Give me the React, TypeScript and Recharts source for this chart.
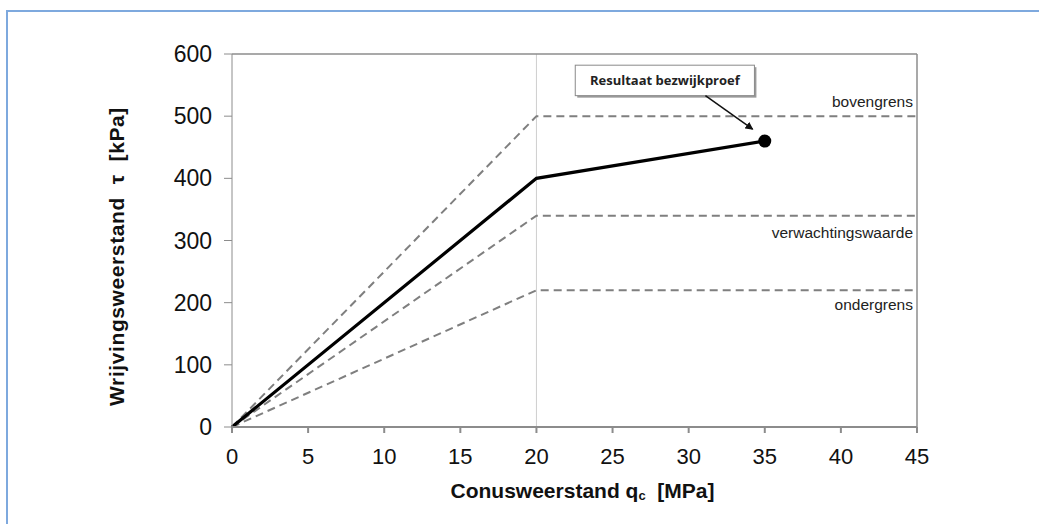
import { LineChart, Line, XAxis, YAxis, ReferenceLine, ReferenceArea } from 'recharts'

const xTicks = [0, 5, 10, 15, 20, 25, 30, 35, 40, 45]
const yTicks = [0, 100, 200, 300, 400, 500, 600]

const resultaat = [
  { x: 0, y: 0 },
  { x: 20, y: 400 },
  { x: 35, y: 460 },
]
const bovengrens = [
  { x: 0, y: 0 },
  { x: 20, y: 500 },
  { x: 45, y: 500 },
]
const verwachting = [
  { x: 0, y: 0 },
  { x: 20, y: 340 },
  { x: 45, y: 340 },
]
const ondergrens = [
  { x: 0, y: 0 },
  { x: 20, y: 220 },
  { x: 45, y: 220 },
]

const limits = [
  { name: 'bovengrens', data: bovengrens, dy: -13 },
  { name: 'verwachtingswaarde', data: verwachting, dy: 18 },
  { name: 'ondergrens', data: ondergrens, dy: 16 },
]

const annotation = { text: 'Resultaat bezwijkproef', x1: 22.55, x2: 34.32, y1: 533, y2: 582 }
const arrow = [
  { x: 31.1, y: 533 },
  { x: 34.2, y: 479 },
]

const axisGray = '#8c8c8c'
const font = 'Arial, "Liberation Sans", sans-serif'

function endLabel(name: string, dy: number, last: number) {
  return (props: any) => {
    if (props.index !== last) return null
    return (
      <text
        x={props.x - 4}
        y={props.y + dy}
        textAnchor="end"
        dominantBaseline="middle"
        fontSize={15.5}
        fontFamily={font}
        fill="#222"
      >
        {name}
      </text>
    )
  }
}

function EndDot(props: any) {
  if (props.index !== resultaat.length - 1) return null
  return <circle cx={props.cx} cy={props.cy} r={6.5} fill="#000" />
}

function BoxShape(props: any) {
  const { x, y, width, height } = props
  return (
    <g>
      <rect x={x + 2} y={y + 2} width={width} height={height} fill="#9a9a9a" />
      <rect x={x} y={y} width={width} height={height} fill="#fff" stroke="#8a8a8a" strokeWidth={1} />
      <text
        x={x + width / 2}
        y={y + height / 2 + 1}
        textAnchor="middle"
        dominantBaseline="middle"
        fontSize={13}
        fontWeight="bold"
        fontFamily='"Open Sans", sans-serif'
        fill="#222"
      >
        {annotation.text}
      </text>
    </g>
  )
}

function ArrowShape(props: any) {
  const { x1, y1, x2, y2 } = props
  return (
    <line x1={x1} y1={y1} x2={x2} y2={y2} stroke="#111" strokeWidth={1.5} markerEnd="url(#arrowHead)" />
  )
}

export default function App() {
  return (
    <div style={{ position: 'absolute', left: 0, top: 0, width: 1039, height: 524, background: '#fff' }}>
      <div
        style={{
          position: 'absolute',
          left: 6,
          top: 10,
          width: 1033,
          height: 514,
          borderTop: '2px solid #7ea9de',
          borderLeft: '2px solid #7ea9de',
          boxSizing: 'border-box',
        }}
      />
      <div style={{ position: 'absolute', left: 0, top: 0 }}>
        <LineChart width={1039} height={524} margin={{ top: 54, right: 122, bottom: 0, left: 0 }}>
          <defs>
            <marker id="arrowHead" markerWidth="8" markerHeight="8" refX="7" refY="4" orient="auto" markerUnits="userSpaceOnUse">
              <path d="M0,0 L8,4 L0,8 z" fill="#111" />
            </marker>
          </defs>
          <XAxis
            type="number"
            dataKey="x"
            domain={[0, 45]}
            ticks={xTicks}
            height={97}
            stroke={axisGray}
            strokeWidth={2}
            tickSize={6}
            tick={{ fill: '#111', fontSize: 22, fontFamily: font, dy: 13 }}
            label={{
              value: 'Conusweerstand qc [MPa]',
              content: (p: any) => {
                const vb = p.viewBox
                return (
                  <text
                    x={vb.x + vb.width / 2 + 8}
                    y={492}
                    textAnchor="middle"
                    dominantBaseline="middle"
                    fontSize={21}
                    fontWeight="bold"
                    fontFamily={font}
                    fill="#111"
                  >
                    Conusweerstand q
                    <tspan fontSize={13} dy={5}>c</tspan>
                    <tspan dy={-5}>{'\u00a0\u00a0[MPa]'}</tspan>
                  </text>
                )
              },
            }}
          />
          <YAxis
            type="number"
            domain={[0, 600]}
            ticks={yTicks}
            width={232}
            stroke={axisGray}
            tickSize={8}
            tick={{ fill: '#111', fontSize: 23, fontFamily: font, dx: -10 }}
            label={{
              value: 'Wrijvingsweerstand',
              content: (p: any) => {
                const vb = p.viewBox
                const cy = vb.y + vb.height / 2 + 16
                return (
                  <text
                    x={118}
                    y={cy}
                    transform={`rotate(-90 118 ${cy})`}
                    textAnchor="middle"
                    dominantBaseline="middle"
                    fontSize={21}
                    fontWeight="bold"
                    fontFamily={font}
                    fill="#111"
                    letterSpacing={0.6}
                  >
                    {'Wrijvingsweerstand\u00a0\u00a0τ\u00a0\u00a0[kPa]'}
                  </text>
                )
              },
            }}
          />
          <ReferenceLine x={20} stroke="#cfcfcf" strokeWidth={1} />
          <ReferenceLine y={600} stroke={axisGray} strokeWidth={1.5} />
          <ReferenceLine x={45} stroke={axisGray} strokeWidth={1.5} />
          {limits.map((l) => (
            <Line
              key={l.name}
              data={l.data}
              dataKey="y"
              type="linear"
              stroke="#7f7f7f"
              strokeWidth={2}
              strokeDasharray="8 5"
              dot={false}
              activeDot={false}
              isAnimationActive={false}
              label={endLabel(l.name, l.dy, l.data.length - 1)}
            />
          ))}
          <Line
            data={resultaat}
            dataKey="y"
            type="linear"
            stroke="#000"
            strokeWidth={3.2}
            dot={<EndDot />}
            activeDot={false}
            isAnimationActive={false}
          />
          <ReferenceArea
            x1={annotation.x1}
            x2={annotation.x2}
            y1={annotation.y1}
            y2={annotation.y2}
            shape={<BoxShape />}
          />
          <ReferenceLine segment={arrow} shape={<ArrowShape />} />
        </LineChart>
      </div>
    </div>
  )
}
